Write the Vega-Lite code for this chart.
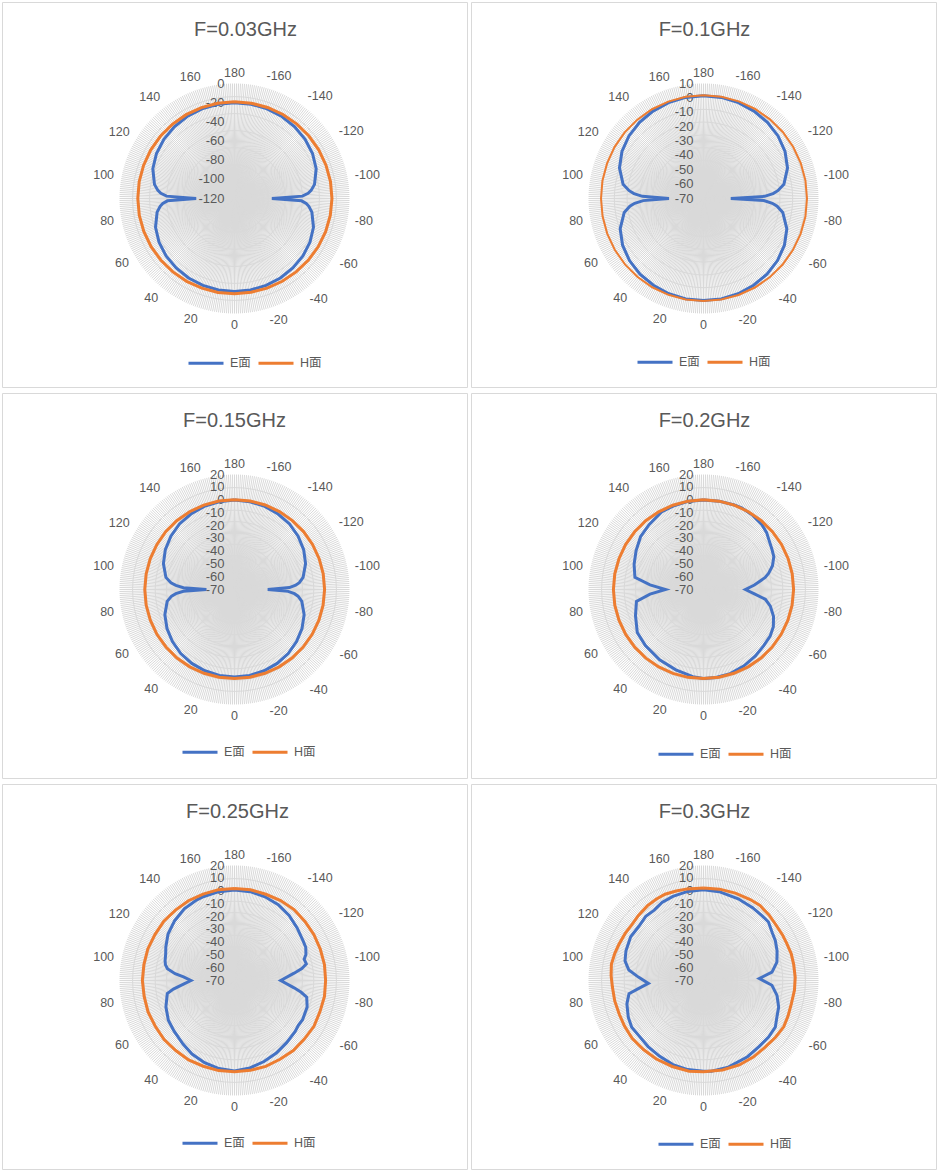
{
  "$schema": "https://vega.github.io/schema/vega-lite/v6.json",
  "padding": {"left": 1, "top": 1, "right": 0, "bottom": 0},
  "background": "white",
  "config": {
    "font": "Liberation Sans",
    "view": {"stroke": "#d9d9d9", "strokeWidth": 1},
    "title": {"fontSize": 20, "fontWeight": "normal", "color": "#595959", "anchor": "middle", "frame": "group", "offset": -38},
    "text": {"fontSize": 13, "color": "#595959"},
    "legend": {"orient": "none", "direction": "horizontal", "title": null, "symbolType": "stroke", "symbolSize": 1225, "symbolStrokeWidth": 3, "labelFontSize": 12.5, "labelColor": "#595959", "labelFont": "Liberation Sans, Noto Sans CJK SC", "columnPadding": 1, "labelOffset": 5}
  },
  "datasets": {
    "sp": [
      {"a":-179},{"a":-178},{"a":-177},{"a":-176},{"a":-175},{"a":-174},{"a":-173},{"a":-172},{"a":-171},{"a":-170},
      {"a":-169},{"a":-168},{"a":-167},{"a":-166},{"a":-165},{"a":-164},{"a":-163},{"a":-162},{"a":-161},{"a":-160},
      {"a":-159},{"a":-158},{"a":-157},{"a":-156},{"a":-155},{"a":-154},{"a":-153},{"a":-152},{"a":-151},{"a":-150},
      {"a":-149},{"a":-148},{"a":-147},{"a":-146},{"a":-145},{"a":-144},{"a":-143},{"a":-142},{"a":-141},{"a":-140},
      {"a":-139},{"a":-138},{"a":-137},{"a":-136},{"a":-135},{"a":-134},{"a":-133},{"a":-132},{"a":-131},{"a":-130},
      {"a":-129},{"a":-128},{"a":-127},{"a":-126},{"a":-125},{"a":-124},{"a":-123},{"a":-122},{"a":-121},{"a":-120},
      {"a":-119},{"a":-118},{"a":-117},{"a":-116},{"a":-115},{"a":-114},{"a":-113},{"a":-112},{"a":-111},{"a":-110},
      {"a":-109},{"a":-108},{"a":-107},{"a":-106},{"a":-105},{"a":-104},{"a":-103},{"a":-102},{"a":-101},{"a":-100},
      {"a":-99},{"a":-98},{"a":-97},{"a":-96},{"a":-95},{"a":-94},{"a":-93},{"a":-92},{"a":-91},{"a":-90},
      {"a":-89},{"a":-88},{"a":-87},{"a":-86},{"a":-85},{"a":-84},{"a":-83},{"a":-82},{"a":-81},{"a":-80},
      {"a":-79},{"a":-78},{"a":-77},{"a":-76},{"a":-75},{"a":-74},{"a":-73},{"a":-72},{"a":-71},{"a":-70},
      {"a":-69},{"a":-68},{"a":-67},{"a":-66},{"a":-65},{"a":-64},{"a":-63},{"a":-62},{"a":-61},{"a":-60},
      {"a":-59},{"a":-58},{"a":-57},{"a":-56},{"a":-55},{"a":-54},{"a":-53},{"a":-52},{"a":-51},{"a":-50},
      {"a":-49},{"a":-48},{"a":-47},{"a":-46},{"a":-45},{"a":-44},{"a":-43},{"a":-42},{"a":-41},{"a":-40},
      {"a":-39},{"a":-38},{"a":-37},{"a":-36},{"a":-35},{"a":-34},{"a":-33},{"a":-32},{"a":-31},{"a":-30},
      {"a":-29},{"a":-28},{"a":-27},{"a":-26},{"a":-25},{"a":-24},{"a":-23},{"a":-22},{"a":-21},{"a":-20},
      {"a":-19},{"a":-18},{"a":-17},{"a":-16},{"a":-15},{"a":-14},{"a":-13},{"a":-12},{"a":-11},{"a":-10},
      {"a":-9},{"a":-8},{"a":-7},{"a":-6},{"a":-5},{"a":-4},{"a":-3},{"a":-2},{"a":-1},{"a":0},
      {"a":1},{"a":2},{"a":3},{"a":4},{"a":5},{"a":6},{"a":7},{"a":8},{"a":9},{"a":10},
      {"a":11},{"a":12},{"a":13},{"a":14},{"a":15},{"a":16},{"a":17},{"a":18},{"a":19},{"a":20},
      {"a":21},{"a":22},{"a":23},{"a":24},{"a":25},{"a":26},{"a":27},{"a":28},{"a":29},{"a":30},
      {"a":31},{"a":32},{"a":33},{"a":34},{"a":35},{"a":36},{"a":37},{"a":38},{"a":39},{"a":40},
      {"a":41},{"a":42},{"a":43},{"a":44},{"a":45},{"a":46},{"a":47},{"a":48},{"a":49},{"a":50},
      {"a":51},{"a":52},{"a":53},{"a":54},{"a":55},{"a":56},{"a":57},{"a":58},{"a":59},{"a":60},
      {"a":61},{"a":62},{"a":63},{"a":64},{"a":65},{"a":66},{"a":67},{"a":68},{"a":69},{"a":70},
      {"a":71},{"a":72},{"a":73},{"a":74},{"a":75},{"a":76},{"a":77},{"a":78},{"a":79},{"a":80},
      {"a":81},{"a":82},{"a":83},{"a":84},{"a":85},{"a":86},{"a":87},{"a":88},{"a":89},{"a":90},
      {"a":91},{"a":92},{"a":93},{"a":94},{"a":95},{"a":96},{"a":97},{"a":98},{"a":99},{"a":100},
      {"a":101},{"a":102},{"a":103},{"a":104},{"a":105},{"a":106},{"a":107},{"a":108},{"a":109},{"a":110},
      {"a":111},{"a":112},{"a":113},{"a":114},{"a":115},{"a":116},{"a":117},{"a":118},{"a":119},{"a":120},
      {"a":121},{"a":122},{"a":123},{"a":124},{"a":125},{"a":126},{"a":127},{"a":128},{"a":129},{"a":130},
      {"a":131},{"a":132},{"a":133},{"a":134},{"a":135},{"a":136},{"a":137},{"a":138},{"a":139},{"a":140},
      {"a":141},{"a":142},{"a":143},{"a":144},{"a":145},{"a":146},{"a":147},{"a":148},{"a":149},{"a":150},
      {"a":151},{"a":152},{"a":153},{"a":154},{"a":155},{"a":156},{"a":157},{"a":158},{"a":159},{"a":160},
      {"a":161},{"a":162},{"a":163},{"a":164},{"a":165},{"a":166},{"a":167},{"a":168},{"a":169},{"a":170},
      {"a":171},{"a":172},{"a":173},{"a":174},{"a":175},{"a":176},{"a":177},{"a":178},{"a":179},{"a":180}
    ],
    "l1": [{"v":0},{"v":-20},{"v":-40},{"v":-60},{"v":-80},{"v":-100},{"v":-120}],
    "l2": [{"v":10},{"v":0},{"v":-10},{"v":-20},{"v":-30},{"v":-40},{"v":-50},{"v":-60},{"v":-70}],
    "l3": [{"v":20},{"v":10},{"v":0},{"v":-10},{"v":-20},{"v":-30},{"v":-40},{"v":-50},{"v":-60},{"v":-70}],
    "d1": [
      {"s":"E面","a":-180,"v":-20},{"s":"E面","a":-170,"v":-20.1},{"s":"E面","a":-160,"v":-20.5},{"s":"E面","a":-150,"v":-21.2},{"s":"E面","a":-140,"v":-22.3},{"s":"E面","a":-130,"v":-23.8},{"s":"E面","a":-120,"v":-26},{"s":"E面","a":-110,"v":-29.3},{"s":"E面","a":-100,"v":-35.2},{"s":"E面","a":-96,"v":-39.6},{"s":"E面","a":-94,"v":-43},{"s":"E面","a":-92,"v":-49},{"s":"E面","a":-90,"v":-81},{"s":"E面","a":-88,"v":-50},{"s":"E面","a":-86,"v":-45},{"s":"E面","a":-84,"v":-42},{"s":"E面","a":-80,"v":-38},{"s":"E面","a":-70,"v":-32.3},{"s":"E面","a":-60,"v":-29},{"s":"E面","a":-50,"v":-26.8},{"s":"E面","a":-40,"v":-25.3},{"s":"E面","a":-30,"v":-24.2},{"s":"E面","a":-20,"v":-23.5},{"s":"E面","a":-10,"v":-23.1},{"s":"E面","a":0,"v":-23},
      {"s":"E面","a":10,"v":-23.1},{"s":"E面","a":20,"v":-23.5},{"s":"E面","a":30,"v":-24.2},{"s":"E面","a":40,"v":-25.3},{"s":"E面","a":50,"v":-26.8},{"s":"E面","a":60,"v":-29},{"s":"E面","a":70,"v":-32.3},{"s":"E面","a":80,"v":-38},{"s":"E面","a":84,"v":-42},{"s":"E面","a":86,"v":-45},{"s":"E面","a":88,"v":-50},{"s":"E面","a":90,"v":-80},{"s":"E面","a":92,"v":-49},{"s":"E面","a":94,"v":-43},{"s":"E面","a":96,"v":-39.6},{"s":"E面","a":100,"v":-35.2},{"s":"E面","a":110,"v":-29.3},{"s":"E面","a":120,"v":-26},{"s":"E面","a":130,"v":-23.8},{"s":"E面","a":140,"v":-22.3},{"s":"E面","a":150,"v":-21.2},{"s":"E面","a":160,"v":-20.5},{"s":"E面","a":170,"v":-20.1},{"s":"E面","a":180,"v":-20},
      {"s":"H面","a":-180,"v":-19},{"s":"H面","a":-170,"v":-19},{"s":"H面","a":-160,"v":-18.9},{"s":"H面","a":-150,"v":-18.8},{"s":"H面","a":-140,"v":-18.7},{"s":"H面","a":-130,"v":-18.6},{"s":"H面","a":-120,"v":-18.5},{"s":"H面","a":-110,"v":-18.4},{"s":"H面","a":-100,"v":-18.3},{"s":"H面","a":-90,"v":-18.3},{"s":"H面","a":-80,"v":-18.5},{"s":"H面","a":-70,"v":-18.8},{"s":"H面","a":-60,"v":-19.2},{"s":"H面","a":-50,"v":-19.6},{"s":"H面","a":-40,"v":-20},{"s":"H面","a":-30,"v":-20.3},{"s":"H面","a":-20,"v":-20.5},{"s":"H面","a":-10,"v":-20.6},{"s":"H面","a":0,"v":-20.6},
      {"s":"H面","a":10,"v":-20.5},{"s":"H面","a":20,"v":-20.4},{"s":"H面","a":30,"v":-20.2},{"s":"H面","a":40,"v":-20},{"s":"H面","a":50,"v":-19.8},{"s":"H面","a":60,"v":-19.5},{"s":"H面","a":70,"v":-19.3},{"s":"H面","a":80,"v":-19.1},{"s":"H面","a":90,"v":-19.1},{"s":"H面","a":100,"v":-19},{"s":"H面","a":110,"v":-19},{"s":"H面","a":120,"v":-19},{"s":"H面","a":130,"v":-19},{"s":"H面","a":140,"v":-19},{"s":"H面","a":150,"v":-19},{"s":"H面","a":160,"v":-19},{"s":"H面","a":170,"v":-19},{"s":"H面","a":180,"v":-19}
    ],
    "d2": [
      {"s":"E面","a":-180,"v":1.5},{"s":"E面","a":-170,"v":1.4},{"s":"E面","a":-160,"v":1},{"s":"E面","a":-150,"v":0.2},{"s":"E面","a":-140,"v":-0.8},{"s":"E面","a":-130,"v":-2.3},{"s":"E面","a":-120,"v":-4.5},{"s":"E面","a":-110,"v":-7.8},{"s":"E面","a":-100,"v":-13.2},{"s":"E面","a":-96,"v":-18},{"s":"E面","a":-94,"v":-21.5},{"s":"E面","a":-92,"v":-27.5},{"s":"E面","a":-90,"v":-51},{"s":"E面","a":-88,"v":-28},{"s":"E面","a":-86,"v":-22},{"s":"E面","a":-84,"v":-18.5},{"s":"E面","a":-80,"v":-14},{"s":"E面","a":-70,"v":-8.3},{"s":"E面","a":-60,"v":-5},{"s":"E面","a":-50,"v":-2.8},{"s":"E面","a":-40,"v":-1.3},{"s":"E面","a":-30,"v":-0.3},{"s":"E面","a":-20,"v":0.5},{"s":"E面","a":-10,"v":0.9},{"s":"E面","a":0,"v":1},
      {"s":"E面","a":10,"v":0.9},{"s":"E面","a":20,"v":0.5},{"s":"E面","a":30,"v":-0.3},{"s":"E面","a":40,"v":-1.3},{"s":"E面","a":50,"v":-2.8},{"s":"E面","a":60,"v":-5},{"s":"E面","a":70,"v":-8.3},{"s":"E面","a":80,"v":-14},{"s":"E面","a":84,"v":-18.5},{"s":"E面","a":86,"v":-22},{"s":"E面","a":88,"v":-28},{"s":"E面","a":90,"v":-46},{"s":"E面","a":92,"v":-27.5},{"s":"E面","a":94,"v":-21.5},{"s":"E面","a":96,"v":-18},{"s":"E面","a":100,"v":-13.2},{"s":"E面","a":110,"v":-7.8},{"s":"E面","a":120,"v":-4.5},{"s":"E面","a":130,"v":-2.3},{"s":"E面","a":140,"v":-0.8},{"s":"E面","a":150,"v":0.2},{"s":"E面","a":160,"v":1},{"s":"E面","a":170,"v":1.4},{"s":"E面","a":180,"v":1.5},
      {"s":"H面","a":-180,"v":1.8},{"s":"H面","a":-170,"v":1.8},{"s":"H面","a":-160,"v":1.9},{"s":"H面","a":-150,"v":1.9},{"s":"H面","a":-140,"v":1.9},{"s":"H面","a":-130,"v":2},{"s":"H面","a":-120,"v":2},{"s":"H面","a":-110,"v":2},{"s":"H面","a":-100,"v":2},{"s":"H面","a":-90,"v":2},{"s":"H面","a":-80,"v":2},{"s":"H面","a":-70,"v":1.9},{"s":"H面","a":-60,"v":1.8},{"s":"H面","a":-50,"v":1.7},{"s":"H面","a":-40,"v":1.6},{"s":"H面","a":-30,"v":1.5},{"s":"H面","a":-20,"v":1.4},{"s":"H面","a":-10,"v":1.3},{"s":"H面","a":0,"v":1.3},
      {"s":"H面","a":10,"v":1.3},{"s":"H面","a":20,"v":1.3},{"s":"H面","a":30,"v":1.3},{"s":"H面","a":40,"v":1.3},{"s":"H面","a":50,"v":1.3},{"s":"H面","a":60,"v":1.3},{"s":"H面","a":70,"v":1.3},{"s":"H面","a":80,"v":1.3},{"s":"H面","a":90,"v":1.3},{"s":"H面","a":100,"v":1.4},{"s":"H面","a":110,"v":1.4},{"s":"H面","a":120,"v":1.5},{"s":"H面","a":130,"v":1.6},{"s":"H面","a":140,"v":1.6},{"s":"H面","a":150,"v":1.7},{"s":"H面","a":160,"v":1.7},{"s":"H面","a":170,"v":1.8},{"s":"H面","a":180,"v":1.8}
    ],
    "d3": [
      {"s":"E面","a":-180,"v":0},{"s":"E面","a":-170,"v":-0.3},{"s":"E面","a":-160,"v":-0.8},{"s":"E面","a":-150,"v":-1.8},{"s":"E面","a":-140,"v":-3},{"s":"E面","a":-130,"v":-5},{"s":"E面","a":-120,"v":-7.5},{"s":"E面","a":-110,"v":-10.8},{"s":"E面","a":-100,"v":-15.5},{"s":"E面","a":-96,"v":-19},{"s":"E面","a":-94,"v":-22},{"s":"E面","a":-92,"v":-27},{"s":"E面","a":-90,"v":-44},{"s":"E面","a":-88,"v":-28},{"s":"E面","a":-86,"v":-23},{"s":"E面","a":-84,"v":-20},{"s":"E面","a":-80,"v":-16.5},{"s":"E面","a":-70,"v":-12},{"s":"E面","a":-60,"v":-9},{"s":"E面","a":-50,"v":-6.6},{"s":"E面","a":-40,"v":-4.6},{"s":"E面","a":-30,"v":-3.2},{"s":"E面","a":-20,"v":-2.3},{"s":"E面","a":-10,"v":-1.7},{"s":"E面","a":0,"v":-1.5},
      {"s":"E面","a":10,"v":-1.7},{"s":"E面","a":20,"v":-2.3},{"s":"E面","a":30,"v":-3.2},{"s":"E面","a":40,"v":-4.6},{"s":"E面","a":50,"v":-6.6},{"s":"E面","a":60,"v":-9},{"s":"E面","a":70,"v":-12},{"s":"E面","a":80,"v":-16.5},{"s":"E面","a":84,"v":-20.5},{"s":"E面","a":86,"v":-24},{"s":"E面","a":88,"v":-30},{"s":"E面","a":90,"v":-48},{"s":"E面","a":92,"v":-30},{"s":"E面","a":94,"v":-24},{"s":"E面","a":96,"v":-20},{"s":"E面","a":100,"v":-15.5},{"s":"E面","a":110,"v":-10.8},{"s":"E面","a":120,"v":-7.5},{"s":"E面","a":130,"v":-5},{"s":"E面","a":140,"v":-3},{"s":"E面","a":150,"v":-1.8},{"s":"E面","a":160,"v":-0.8},{"s":"E面","a":170,"v":-0.3},{"s":"E面","a":180,"v":0},
      {"s":"H面","a":-180,"v":0.3},{"s":"H面","a":-170,"v":0.3},{"s":"H面","a":-160,"v":0.4},{"s":"H面","a":-150,"v":0.4},{"s":"H面","a":-140,"v":0.4},{"s":"H面","a":-130,"v":0.5},{"s":"H面","a":-120,"v":0.5},{"s":"H面","a":-110,"v":0.5},{"s":"H面","a":-100,"v":0.5},{"s":"H面","a":-90,"v":0.5},{"s":"H面","a":-80,"v":0.4},{"s":"H面","a":-70,"v":0.3},{"s":"H面","a":-60,"v":0.2},{"s":"H面","a":-50,"v":0.1},{"s":"H面","a":-40,"v":0},{"s":"H面","a":-30,"v":-0.1},{"s":"H面","a":-20,"v":-0.2},{"s":"H面","a":-10,"v":-0.3},{"s":"H面","a":0,"v":-0.3},
      {"s":"H面","a":10,"v":-0.3},{"s":"H面","a":20,"v":-0.2},{"s":"H面","a":30,"v":-0.1},{"s":"H面","a":40,"v":0},{"s":"H面","a":50,"v":0},{"s":"H面","a":60,"v":0.1},{"s":"H面","a":70,"v":0.1},{"s":"H面","a":80,"v":0.2},{"s":"H面","a":90,"v":0.2},{"s":"H面","a":100,"v":0.2},{"s":"H面","a":110,"v":0.2},{"s":"H面","a":120,"v":0.2},{"s":"H面","a":130,"v":0.3},{"s":"H面","a":140,"v":0.3},{"s":"H面","a":150,"v":0.3},{"s":"H面","a":160,"v":0.3},{"s":"H面","a":170,"v":0.3},{"s":"H面","a":180,"v":0.3}
    ],
    "d4": [
      {"s":"E面","a":-180,"v":0},{"s":"E面","a":-170,"v":0.2},{"s":"E面","a":-160,"v":0.4},{"s":"E面","a":-155,"v":0.5},{"s":"E面","a":-147,"v":-0.3},{"s":"E面","a":-138,"v":-1.7},{"s":"E面","a":-132,"v":-3.5},{"s":"E面","a":-127,"v":-5.8},{"s":"E面","a":-120,"v":-8},{"s":"E面","a":-115,"v":-9.3},{"s":"E面","a":-109,"v":-12.9},{"s":"E面","a":-104,"v":-17.4},{"s":"E面","a":-101,"v":-20.8},{"s":"E面","a":-95,"v":-30},{"s":"E面","a":-90,"v":-37.2},{"s":"E面","a":-85,"v":-30},{"s":"E面","a":-81,"v":-21},{"s":"E面","a":-76,"v":-16.1},{"s":"E面","a":-69,"v":-11.3},{"s":"E面","a":-62,"v":-8.1},{"s":"E面","a":-55,"v":-6.3},{"s":"E面","a":-47,"v":-5.5},{"s":"E面","a":-38,"v":-4},{"s":"E面","a":-28,"v":-2.4},{"s":"E面","a":-17,"v":-0.8},{"s":"E面","a":-8,"v":-0.4},{"s":"E面","a":0,"v":-0.3},
      {"s":"E面","a":7,"v":-1.3},{"s":"E面","a":19,"v":-3.5},{"s":"E面","a":32,"v":-5.2},{"s":"E面","a":46,"v":-6.8},{"s":"E面","a":57,"v":-8.2},{"s":"E面","a":69,"v":-13},{"s":"E面","a":80,"v":-16.7},{"s":"E面","a":85,"v":-28},{"s":"E面","a":90,"v":-40.3},{"s":"E面","a":95,"v":-28},{"s":"E面","a":100,"v":-15.5},{"s":"E面","a":110,"v":-12.2},{"s":"E面","a":120,"v":-9.1},{"s":"E面","a":130,"v":-5.7},{"s":"E面","a":140,"v":-3.7},{"s":"E面","a":152,"v":-0.9},{"s":"E面","a":160,"v":-0.5},{"s":"E面","a":170,"v":0},{"s":"E面","a":180,"v":0},
      {"s":"H面","a":-180,"v":0.2},{"s":"H面","a":-170,"v":0.2},{"s":"H面","a":-160,"v":0.3},{"s":"H面","a":-150,"v":0.3},{"s":"H面","a":-140,"v":0.4},{"s":"H面","a":-130,"v":0.4},{"s":"H面","a":-120,"v":0.5},{"s":"H面","a":-110,"v":0.5},{"s":"H面","a":-100,"v":0.5},{"s":"H面","a":-90,"v":0.5},{"s":"H面","a":-80,"v":0.4},{"s":"H面","a":-70,"v":0.3},{"s":"H面","a":-60,"v":0.2},{"s":"H面","a":-50,"v":0.1},{"s":"H面","a":-40,"v":0},{"s":"H面","a":-30,"v":-0.1},{"s":"H面","a":-20,"v":-0.2},{"s":"H面","a":-10,"v":-0.3},{"s":"H面","a":0,"v":-0.3},
      {"s":"H面","a":10,"v":-0.2},{"s":"H面","a":20,"v":-0.1},{"s":"H面","a":30,"v":0},{"s":"H面","a":40,"v":0.1},{"s":"H面","a":50,"v":0.2},{"s":"H面","a":60,"v":0.3},{"s":"H面","a":70,"v":0.4},{"s":"H面","a":80,"v":0.5},{"s":"H面","a":90,"v":0.5},{"s":"H面","a":100,"v":0.5},{"s":"H面","a":110,"v":0.4},{"s":"H面","a":120,"v":0.4},{"s":"H面","a":130,"v":0.3},{"s":"H面","a":140,"v":0.3},{"s":"H面","a":150,"v":0.2},{"s":"H面","a":160,"v":0.2},{"s":"H面","a":170,"v":0.2},{"s":"H面","a":180,"v":0.2}
    ],
    "d5": [
      {"s":"E面","a":-180,"v":0.8},{"s":"E面","a":-170,"v":0.6},{"s":"E面","a":-160,"v":-0.3},{"s":"E面","a":-150,"v":-1.5},{"s":"E面","a":-140,"v":-3.5},{"s":"E面","a":-130,"v":-6},{"s":"E面","a":-120,"v":-8},{"s":"E面","a":-115,"v":-8.5},{"s":"E面","a":-110,"v":-10.5},{"s":"E面","a":-107,"v":-13},{"s":"E面","a":-103,"v":-12.3},{"s":"E面","a":-100,"v":-16.5},{"s":"E面","a":-97,"v":-23},{"s":"E面","a":-90,"v":-33.8},{"s":"E面","a":-83,"v":-23},{"s":"E面","a":-80,"v":-17},{"s":"E面","a":-77,"v":-12},{"s":"E面","a":-70,"v":-9.5},{"s":"E面","a":-60,"v":-8.5},{"s":"E面","a":-55,"v":-9},{"s":"E面","a":-50,"v":-8},{"s":"E面","a":-40,"v":-6.5},{"s":"E面","a":-30,"v":-4.5},{"s":"E面","a":-20,"v":-2.5},{"s":"E面","a":-10,"v":-0.5},{"s":"E面","a":0,"v":0.8},
      {"s":"E面","a":10,"v":0},{"s":"E面","a":20,"v":-1.5},{"s":"E面","a":30,"v":-3.5},{"s":"E面","a":39,"v":-6},{"s":"E面","a":50,"v":-8.3},{"s":"E面","a":59,"v":-9.6},{"s":"E面","a":69,"v":-12.5},{"s":"E面","a":79,"v":-16.4},{"s":"E面","a":82,"v":-21.7},{"s":"E面","a":86,"v":-30},{"s":"E面","a":90,"v":-35.9},{"s":"E面","a":94,"v":-30},{"s":"E面","a":96.5,"v":-23.2},{"s":"E面","a":100,"v":-16.7},{"s":"E面","a":103,"v":-14.5},{"s":"E面","a":106,"v":-13.5},{"s":"E面","a":111,"v":-12.3},{"s":"E面","a":116,"v":-10.2},{"s":"E面","a":125,"v":-6.5},{"s":"E面","a":135,"v":-3.8},{"s":"E面","a":145,"v":-1.5},{"s":"E面","a":155,"v":-0.3},{"s":"E面","a":160,"v":0},{"s":"E面","a":170,"v":0.6},{"s":"E面","a":180,"v":0.8},
      {"s":"H面","a":-180,"v":2},{"s":"H面","a":-170,"v":2.1},{"s":"H面","a":-160,"v":1.8},{"s":"H面","a":-150,"v":2.2},{"s":"H面","a":-140,"v":2.5},{"s":"H面","a":-130,"v":2},{"s":"H面","a":-120,"v":1.8},{"s":"H面","a":-110,"v":1.5},{"s":"H面","a":-100,"v":1.5},{"s":"H面","a":-90,"v":1.3},{"s":"H面","a":-80,"v":1.5},{"s":"H面","a":-70,"v":1.2},{"s":"H面","a":-60,"v":1.8},{"s":"H面","a":-50,"v":1.3},{"s":"H面","a":-40,"v":1.6},{"s":"H面","a":-30,"v":1.2},{"s":"H面","a":-20,"v":1.5},{"s":"H面","a":-10,"v":1.4},{"s":"H面","a":0,"v":1.5},
      {"s":"H面","a":10,"v":1.6},{"s":"H面","a":20,"v":1.4},{"s":"H面","a":30,"v":1.8},{"s":"H面","a":40,"v":1.5},{"s":"H面","a":50,"v":1.9},{"s":"H面","a":60,"v":1.6},{"s":"H面","a":70,"v":2},{"s":"H面","a":80,"v":1.8},{"s":"H面","a":90,"v":2.1},{"s":"H面","a":100,"v":2},{"s":"H面","a":110,"v":2.2},{"s":"H面","a":120,"v":1.9},{"s":"H面","a":130,"v":2.2},{"s":"H面","a":140,"v":1.9},{"s":"H面","a":150,"v":2.1},{"s":"H面","a":160,"v":2},{"s":"H面","a":170,"v":2.2},{"s":"H面","a":180,"v":2}
    ],
    "d6": [
      {"s":"E面","a":-180,"v":1},{"s":"E面","a":-170,"v":0.6},{"s":"E面","a":-157,"v":-0.5},{"s":"E面","a":-146,"v":-1.3},{"s":"E面","a":-138,"v":-1.7},{"s":"E面","a":-132,"v":-1.6},{"s":"E面","a":-125,"v":-4.4},{"s":"E面","a":-119,"v":-5.7},{"s":"E面","a":-112,"v":-7.9},{"s":"E面","a":-104,"v":-10.8},{"s":"E面","a":-97,"v":-16},{"s":"E面","a":-92,"v":-26.3},{"s":"E面","a":-86,"v":-16.3},{"s":"E面","a":-78.5,"v":-11.3},{"s":"E面","a":-70.5,"v":-7.6},{"s":"E面","a":-63.5,"v":-5.8},{"s":"E面","a":-57,"v":-3},{"s":"E面","a":-49,"v":-2.5},{"s":"E面","a":-40,"v":-2.4},{"s":"E面","a":-30,"v":-1.1},{"s":"E面","a":-16,"v":0.5},{"s":"E面","a":-5,"v":1.3},{"s":"E面","a":0,"v":1},
      {"s":"E面","a":10,"v":0.8},{"s":"E面","a":20,"v":0},{"s":"E面","a":30,"v":-1.5},{"s":"E面","a":40,"v":-2.5},{"s":"E面","a":50,"v":-3.5},{"s":"E面","a":57,"v":-3},{"s":"E面","a":64,"v":-4.5},{"s":"E面","a":73,"v":-7.3},{"s":"E面","a":80,"v":-10.8},{"s":"E面","a":83,"v":-19},{"s":"E面","a":87,"v":-26.8},{"s":"E面","a":93,"v":-19},{"s":"E面","a":98,"v":-11},{"s":"E面","a":104,"v":-6.7},{"s":"E面","a":111,"v":-5},{"s":"E面","a":121,"v":-3.5},{"s":"E面","a":130,"v":-4},{"s":"E面","a":138,"v":-2.5},{"s":"E面","a":145,"v":-2.8},{"s":"E面","a":152,"v":-0.9},{"s":"E面","a":160,"v":0},{"s":"E面","a":170,"v":0.8},{"s":"E面","a":180,"v":1},
      {"s":"H面","a":-180,"v":2.3},{"s":"H面","a":-170,"v":2.6},{"s":"H面","a":-160,"v":2.8},{"s":"H面","a":-150,"v":3.2},{"s":"H面","a":-143,"v":3.5},{"s":"H面","a":-135,"v":2.5},{"s":"H面","a":-128,"v":1.5},{"s":"H面","a":-120,"v":1.4},{"s":"H面","a":-114,"v":1.3},{"s":"H面","a":-107,"v":1.8},{"s":"H面","a":-100,"v":1.7},{"s":"H面","a":-92,"v":1.8},{"s":"H面","a":-84,"v":1.6},{"s":"H面","a":-75,"v":1.1},{"s":"H面","a":-67,"v":1.8},{"s":"H面","a":-60,"v":2.5},{"s":"H面","a":-52,"v":1.8},{"s":"H面","a":-43,"v":1.1},{"s":"H面","a":-33,"v":1.5},{"s":"H面","a":-23,"v":1.8},{"s":"H面","a":-12,"v":1.6},{"s":"H面","a":0,"v":1.5},
      {"s":"H面","a":9,"v":1.9},{"s":"H面","a":20,"v":1.6},{"s":"H面","a":31,"v":1.7},{"s":"H面","a":41,"v":1.6},{"s":"H面","a":51,"v":1.9},{"s":"H面","a":60,"v":1.4},{"s":"H面","a":68,"v":1},{"s":"H面","a":77,"v":1.3},{"s":"H面","a":86,"v":1.5},{"s":"H面","a":93,"v":2.4},{"s":"H面","a":100,"v":3.2},{"s":"H面","a":107,"v":2.6},{"s":"H面","a":113,"v":2},{"s":"H面","a":121,"v":1.5},{"s":"H面","a":128,"v":1.1},{"s":"H面","a":135,"v":2},{"s":"H面","a":143,"v":3.1},{"s":"H面","a":150,"v":3.6},{"s":"H面","a":156,"v":3.9},{"s":"H面","a":163,"v":3.2},{"s":"H面","a":170,"v":2.8},{"s":"H面","a":180,"v":2.3}
    ]
  },
  "spacing": 4,
  "resolve": {"scale": {"color": "independent"}, "legend": {"color": "independent"}},
  "vconcat": [
    {
      "spacing": 2,
      "resolve": {"scale": {"color": "independent"}, "legend": {"color": "independent"}},
      "hconcat": [
        {
          "width": 465, "height": 385,
          "title": {"text": "F=0.03GHz", "dx": 11},
          "layer": [
            {"data": {"name": "sp"}, "transform": [{"calculate": "0", "as": "o"}, {"calculate": "-115*sin(datum.a*PI/180)", "as": "sx"}, {"calculate": "-115*cos(datum.a*PI/180)", "as": "sy"}],
             "mark": {"type": "rule", "color": "#d9d9d9", "strokeWidth": 1},
             "encoding": {"x": {"field": "o", "type": "quantitative", "scale": {"domain": [-232.5, 232.5], "nice": false, "zero": false}, "axis": null},
                          "y": {"field": "o", "type": "quantitative", "scale": {"domain": [-188.5, 196.5], "nice": false, "zero": false}, "axis": null},
                          "x2": {"field": "sx"}, "y2": {"field": "sy"}}},
            {"data": {"name": "l1"}, "transform": [{"calculate": "0", "as": "o"}, {"calculate": "(datum.v+120)/120", "as": "n"}],
             "mark": {"type": "point", "shape": "circle", "filled": false, "color": "#d9d9d9", "strokeWidth": 1, "opacity": 1},
             "encoding": {"x": {"field": "o", "type": "quantitative"}, "y": {"field": "o", "type": "quantitative"},
                          "size": {"field": "n", "type": "quantitative", "scale": {"type": "pow", "exponent": 2, "domain": [0, 1], "range": [0, 41548], "zero": true, "nice": false}, "legend": null}}},
            {"data": {"name": "sp"}, "transform": [{"filter": "datum.a % 20 == 0"}, {"calculate": "3.6*length(toString(abs(datum.a)))+(datum.a<0?2:0)", "as": "hw"}, {"calculate": "121.5+abs(sin(datum.a*PI/180))*datum.hw+abs(cos(datum.a*PI/180))*4.5", "as": "r"}, {"calculate": "-datum.r*sin(datum.a*PI/180)", "as": "lx"}, {"calculate": "-datum.r*cos(datum.a*PI/180)", "as": "ly"}],
             "mark": {"type": "text", "fontSize": 12.5, "baseline": "middle"},
             "encoding": {"x": {"field": "lx", "type": "quantitative"}, "y": {"field": "ly", "type": "quantitative"}, "text": {"field": "a", "type": "nominal"}}},
            {"data": {"name": "l1"}, "transform": [{"calculate": "0", "as": "o"}, {"calculate": "115*(datum.v+120)/120", "as": "ly"}],
             "mark": {"type": "text", "align": "right", "baseline": "middle", "dx": -10},
             "encoding": {"x": {"field": "o", "type": "quantitative"}, "y": {"field": "ly", "type": "quantitative"}, "text": {"field": "v", "type": "nominal"}}},
            {"data": {"name": "d1"}, "transform": [{"calculate": "115*(datum.v+120)/120", "as": "r"}, {"calculate": "-datum.r*sin(datum.a*PI/180)", "as": "px"}, {"calculate": "-datum.r*cos(datum.a*PI/180)", "as": "py"}],
             "mark": {"type": "line", "strokeWidth": 3},
             "encoding": {"x": {"field": "px", "type": "quantitative"}, "y": {"field": "py", "type": "quantitative"}, "order": {"field": "a", "type": "quantitative"},
                          "color": {"field": "s", "type": "nominal", "scale": {"domain": ["E面", "H面"], "range": ["#4472C4", "#ED7D31"]}, "legend": {"legendX": 185, "legendY": 342}}}}
          ]
        },
        {
          "width": 465, "height": 385,
          "title": {"text": "F=0.1GHz", "dx": 1},
          "layer": [
            {"data": {"name": "sp"}, "transform": [{"calculate": "0", "as": "o"}, {"calculate": "-115*sin(datum.a*PI/180)", "as": "sx"}, {"calculate": "-115*cos(datum.a*PI/180)", "as": "sy"}],
             "mark": {"type": "rule", "color": "#d9d9d9", "strokeWidth": 1},
             "encoding": {"x": {"field": "o", "type": "quantitative", "scale": {"domain": [-232.5, 232.5], "nice": false, "zero": false}, "axis": null},
                          "y": {"field": "o", "type": "quantitative", "scale": {"domain": [-188.5, 196.5], "nice": false, "zero": false}, "axis": null},
                          "x2": {"field": "sx"}, "y2": {"field": "sy"}}},
            {"data": {"name": "l2"}, "transform": [{"calculate": "0", "as": "o"}, {"calculate": "(datum.v+70)/80", "as": "n"}],
             "mark": {"type": "point", "shape": "circle", "filled": false, "color": "#d9d9d9", "strokeWidth": 1, "opacity": 1},
             "encoding": {"x": {"field": "o", "type": "quantitative"}, "y": {"field": "o", "type": "quantitative"},
                          "size": {"field": "n", "type": "quantitative", "scale": {"type": "pow", "exponent": 2, "domain": [0, 1], "range": [0, 41548], "zero": true, "nice": false}, "legend": null}}},
            {"data": {"name": "sp"}, "transform": [{"filter": "datum.a % 20 == 0"}, {"calculate": "3.6*length(toString(abs(datum.a)))+(datum.a<0?2:0)", "as": "hw"}, {"calculate": "121.5+abs(sin(datum.a*PI/180))*datum.hw+abs(cos(datum.a*PI/180))*4.5", "as": "r"}, {"calculate": "-datum.r*sin(datum.a*PI/180)", "as": "lx"}, {"calculate": "-datum.r*cos(datum.a*PI/180)", "as": "ly"}],
             "mark": {"type": "text", "fontSize": 12.5, "baseline": "middle"},
             "encoding": {"x": {"field": "lx", "type": "quantitative"}, "y": {"field": "ly", "type": "quantitative"}, "text": {"field": "a", "type": "nominal"}}},
            {"data": {"name": "l2"}, "transform": [{"calculate": "0", "as": "o"}, {"calculate": "115*(datum.v+70)/80", "as": "ly"}],
             "mark": {"type": "text", "align": "right", "baseline": "middle", "dx": -10},
             "encoding": {"x": {"field": "o", "type": "quantitative"}, "y": {"field": "ly", "type": "quantitative"}, "text": {"field": "v", "type": "nominal"}}},
            {"data": {"name": "d2"}, "transform": [{"filter": "datum.s == 'E面'"}, {"calculate": "115*(datum.v+70)/80", "as": "r"}, {"calculate": "-datum.r*sin(datum.a*PI/180)", "as": "px"}, {"calculate": "-datum.r*cos(datum.a*PI/180)", "as": "py"}],
             "mark": {"type": "line", "strokeWidth": 3},
             "encoding": {"x": {"field": "px", "type": "quantitative"}, "y": {"field": "py", "type": "quantitative"}, "order": {"field": "a", "type": "quantitative"},
                          "color": {"field": "s", "type": "nominal", "scale": {"domain": ["E面", "H面"], "range": ["#4472C4", "#ED7D31"]}, "legend": {"legendX": 165, "legendY": 341}}}},
            {"data": {"name": "d2"}, "transform": [{"filter": "datum.s == 'H面'"}, {"calculate": "115*(datum.v+70)/80", "as": "r"}, {"calculate": "-datum.r*sin(datum.a*PI/180)", "as": "px"}, {"calculate": "-datum.r*cos(datum.a*PI/180)", "as": "py"}],
             "mark": {"type": "line", "strokeWidth": 2},
             "encoding": {"x": {"field": "px", "type": "quantitative"}, "y": {"field": "py", "type": "quantitative"}, "order": {"field": "a", "type": "quantitative"},
                          "color": {"field": "s", "type": "nominal", "scale": {"domain": ["E面", "H面"], "range": ["#4472C4", "#ED7D31"]}, "legend": {"legendX": 165, "legendY": 341}}}}
          ]
        }
      ]
    },
    {
      "spacing": 2,
      "resolve": {"scale": {"color": "independent"}, "legend": {"color": "independent"}},
      "hconcat": [
        {
          "width": 465, "height": 385,
          "title": {"text": "F=0.15GHz", "dx": 0},
          "layer": [
            {"data": {"name": "sp"}, "transform": [{"calculate": "0", "as": "o"}, {"calculate": "-115*sin(datum.a*PI/180)", "as": "sx"}, {"calculate": "-115*cos(datum.a*PI/180)", "as": "sy"}],
             "mark": {"type": "rule", "color": "#d9d9d9", "strokeWidth": 1},
             "encoding": {"x": {"field": "o", "type": "quantitative", "scale": {"domain": [-232.5, 232.5], "nice": false, "zero": false}, "axis": null},
                          "y": {"field": "o", "type": "quantitative", "scale": {"domain": [-188.5, 196.5], "nice": false, "zero": false}, "axis": null},
                          "x2": {"field": "sx"}, "y2": {"field": "sy"}}},
            {"data": {"name": "l3"}, "transform": [{"calculate": "0", "as": "o"}, {"calculate": "(datum.v+70)/90", "as": "n"}],
             "mark": {"type": "point", "shape": "circle", "filled": false, "color": "#d9d9d9", "strokeWidth": 1, "opacity": 1},
             "encoding": {"x": {"field": "o", "type": "quantitative"}, "y": {"field": "o", "type": "quantitative"},
                          "size": {"field": "n", "type": "quantitative", "scale": {"type": "pow", "exponent": 2, "domain": [0, 1], "range": [0, 41548], "zero": true, "nice": false}, "legend": null}}},
            {"data": {"name": "sp"}, "transform": [{"filter": "datum.a % 20 == 0"}, {"calculate": "3.6*length(toString(abs(datum.a)))+(datum.a<0?2:0)", "as": "hw"}, {"calculate": "121.5+abs(sin(datum.a*PI/180))*datum.hw+abs(cos(datum.a*PI/180))*4.5", "as": "r"}, {"calculate": "-datum.r*sin(datum.a*PI/180)", "as": "lx"}, {"calculate": "-datum.r*cos(datum.a*PI/180)", "as": "ly"}],
             "mark": {"type": "text", "fontSize": 12.5, "baseline": "middle"},
             "encoding": {"x": {"field": "lx", "type": "quantitative"}, "y": {"field": "ly", "type": "quantitative"}, "text": {"field": "a", "type": "nominal"}}},
            {"data": {"name": "l3"}, "transform": [{"calculate": "0", "as": "o"}, {"calculate": "115*(datum.v+70)/90", "as": "ly"}],
             "mark": {"type": "text", "align": "right", "baseline": "middle", "dx": -10},
             "encoding": {"x": {"field": "o", "type": "quantitative"}, "y": {"field": "ly", "type": "quantitative"}, "text": {"field": "v", "type": "nominal"}}},
            {"data": {"name": "d3"}, "transform": [{"calculate": "115*(datum.v+70)/90", "as": "r"}, {"calculate": "-datum.r*sin(datum.a*PI/180)", "as": "px"}, {"calculate": "-datum.r*cos(datum.a*PI/180)", "as": "py"}],
             "mark": {"type": "line", "strokeWidth": 3},
             "encoding": {"x": {"field": "px", "type": "quantitative"}, "y": {"field": "py", "type": "quantitative"}, "order": {"field": "a", "type": "quantitative"},
                          "color": {"field": "s", "type": "nominal", "scale": {"domain": ["E面", "H面"], "range": ["#4472C4", "#ED7D31"]}, "legend": {"legendX": 179, "legendY": 340}}}}
          ]
        },
        {
          "width": 465, "height": 385,
          "title": {"text": "F=0.2GHz", "dx": 1},
          "layer": [
            {"data": {"name": "sp"}, "transform": [{"calculate": "0", "as": "o"}, {"calculate": "-115*sin(datum.a*PI/180)", "as": "sx"}, {"calculate": "-115*cos(datum.a*PI/180)", "as": "sy"}],
             "mark": {"type": "rule", "color": "#d9d9d9", "strokeWidth": 1},
             "encoding": {"x": {"field": "o", "type": "quantitative", "scale": {"domain": [-232.5, 232.5], "nice": false, "zero": false}, "axis": null},
                          "y": {"field": "o", "type": "quantitative", "scale": {"domain": [-188.5, 196.5], "nice": false, "zero": false}, "axis": null},
                          "x2": {"field": "sx"}, "y2": {"field": "sy"}}},
            {"data": {"name": "l3"}, "transform": [{"calculate": "0", "as": "o"}, {"calculate": "(datum.v+70)/90", "as": "n"}],
             "mark": {"type": "point", "shape": "circle", "filled": false, "color": "#d9d9d9", "strokeWidth": 1, "opacity": 1},
             "encoding": {"x": {"field": "o", "type": "quantitative"}, "y": {"field": "o", "type": "quantitative"},
                          "size": {"field": "n", "type": "quantitative", "scale": {"type": "pow", "exponent": 2, "domain": [0, 1], "range": [0, 41548], "zero": true, "nice": false}, "legend": null}}},
            {"data": {"name": "sp"}, "transform": [{"filter": "datum.a % 20 == 0"}, {"calculate": "3.6*length(toString(abs(datum.a)))+(datum.a<0?2:0)", "as": "hw"}, {"calculate": "121.5+abs(sin(datum.a*PI/180))*datum.hw+abs(cos(datum.a*PI/180))*4.5", "as": "r"}, {"calculate": "-datum.r*sin(datum.a*PI/180)", "as": "lx"}, {"calculate": "-datum.r*cos(datum.a*PI/180)", "as": "ly"}],
             "mark": {"type": "text", "fontSize": 12.5, "baseline": "middle"},
             "encoding": {"x": {"field": "lx", "type": "quantitative"}, "y": {"field": "ly", "type": "quantitative"}, "text": {"field": "a", "type": "nominal"}}},
            {"data": {"name": "l3"}, "transform": [{"calculate": "0", "as": "o"}, {"calculate": "115*(datum.v+70)/90", "as": "ly"}],
             "mark": {"type": "text", "align": "right", "baseline": "middle", "dx": -10},
             "encoding": {"x": {"field": "o", "type": "quantitative"}, "y": {"field": "ly", "type": "quantitative"}, "text": {"field": "v", "type": "nominal"}}},
            {"data": {"name": "d4"}, "transform": [{"calculate": "115*(datum.v+70)/90", "as": "r"}, {"calculate": "-datum.r*sin(datum.a*PI/180)", "as": "px"}, {"calculate": "-datum.r*cos(datum.a*PI/180)", "as": "py"}],
             "mark": {"type": "line", "strokeWidth": 3},
             "encoding": {"x": {"field": "px", "type": "quantitative"}, "y": {"field": "py", "type": "quantitative"}, "order": {"field": "a", "type": "quantitative"},
                          "color": {"field": "s", "type": "nominal", "scale": {"domain": ["E面", "H面"], "range": ["#4472C4", "#ED7D31"]}, "legend": {"legendX": 186, "legendY": 342}}}}
          ]
        }
      ]
    },
    {
      "spacing": 2,
      "resolve": {"scale": {"color": "independent"}, "legend": {"color": "independent"}},
      "hconcat": [
        {
          "width": 465, "height": 385,
          "title": {"text": "F=0.25GHz", "dx": 3},
          "layer": [
            {"data": {"name": "sp"}, "transform": [{"calculate": "0", "as": "o"}, {"calculate": "-115*sin(datum.a*PI/180)", "as": "sx"}, {"calculate": "-115*cos(datum.a*PI/180)", "as": "sy"}],
             "mark": {"type": "rule", "color": "#d9d9d9", "strokeWidth": 1},
             "encoding": {"x": {"field": "o", "type": "quantitative", "scale": {"domain": [-232.5, 232.5], "nice": false, "zero": false}, "axis": null},
                          "y": {"field": "o", "type": "quantitative", "scale": {"domain": [-188.5, 196.5], "nice": false, "zero": false}, "axis": null},
                          "x2": {"field": "sx"}, "y2": {"field": "sy"}}},
            {"data": {"name": "l3"}, "transform": [{"calculate": "0", "as": "o"}, {"calculate": "(datum.v+70)/90", "as": "n"}],
             "mark": {"type": "point", "shape": "circle", "filled": false, "color": "#d9d9d9", "strokeWidth": 1, "opacity": 1},
             "encoding": {"x": {"field": "o", "type": "quantitative"}, "y": {"field": "o", "type": "quantitative"},
                          "size": {"field": "n", "type": "quantitative", "scale": {"type": "pow", "exponent": 2, "domain": [0, 1], "range": [0, 41548], "zero": true, "nice": false}, "legend": null}}},
            {"data": {"name": "sp"}, "transform": [{"filter": "datum.a % 20 == 0"}, {"calculate": "3.6*length(toString(abs(datum.a)))+(datum.a<0?2:0)", "as": "hw"}, {"calculate": "121.5+abs(sin(datum.a*PI/180))*datum.hw+abs(cos(datum.a*PI/180))*4.5", "as": "r"}, {"calculate": "-datum.r*sin(datum.a*PI/180)", "as": "lx"}, {"calculate": "-datum.r*cos(datum.a*PI/180)", "as": "ly"}],
             "mark": {"type": "text", "fontSize": 12.5, "baseline": "middle"},
             "encoding": {"x": {"field": "lx", "type": "quantitative"}, "y": {"field": "ly", "type": "quantitative"}, "text": {"field": "a", "type": "nominal"}}},
            {"data": {"name": "l3"}, "transform": [{"calculate": "0", "as": "o"}, {"calculate": "115*(datum.v+70)/90", "as": "ly"}],
             "mark": {"type": "text", "align": "right", "baseline": "middle", "dx": -10},
             "encoding": {"x": {"field": "o", "type": "quantitative"}, "y": {"field": "ly", "type": "quantitative"}, "text": {"field": "v", "type": "nominal"}}},
            {"data": {"name": "d5"}, "transform": [{"calculate": "115*(datum.v+70)/90", "as": "r"}, {"calculate": "-datum.r*sin(datum.a*PI/180)", "as": "px"}, {"calculate": "-datum.r*cos(datum.a*PI/180)", "as": "py"}],
             "mark": {"type": "line", "strokeWidth": 3},
             "encoding": {"x": {"field": "px", "type": "quantitative"}, "y": {"field": "py", "type": "quantitative"}, "order": {"field": "a", "type": "quantitative"},
                          "color": {"field": "s", "type": "nominal", "scale": {"domain": ["E面", "H面"], "range": ["#4472C4", "#ED7D31"]}, "legend": {"legendX": 179, "legendY": 340}}}}
          ]
        },
        {
          "width": 465, "height": 385,
          "title": {"text": "F=0.3GHz", "dx": 1},
          "layer": [
            {"data": {"name": "sp"}, "transform": [{"calculate": "0", "as": "o"}, {"calculate": "-115*sin(datum.a*PI/180)", "as": "sx"}, {"calculate": "-115*cos(datum.a*PI/180)", "as": "sy"}],
             "mark": {"type": "rule", "color": "#d9d9d9", "strokeWidth": 1},
             "encoding": {"x": {"field": "o", "type": "quantitative", "scale": {"domain": [-232.5, 232.5], "nice": false, "zero": false}, "axis": null},
                          "y": {"field": "o", "type": "quantitative", "scale": {"domain": [-188.5, 196.5], "nice": false, "zero": false}, "axis": null},
                          "x2": {"field": "sx"}, "y2": {"field": "sy"}}},
            {"data": {"name": "l3"}, "transform": [{"calculate": "0", "as": "o"}, {"calculate": "(datum.v+70)/90", "as": "n"}],
             "mark": {"type": "point", "shape": "circle", "filled": false, "color": "#d9d9d9", "strokeWidth": 1, "opacity": 1},
             "encoding": {"x": {"field": "o", "type": "quantitative"}, "y": {"field": "o", "type": "quantitative"},
                          "size": {"field": "n", "type": "quantitative", "scale": {"type": "pow", "exponent": 2, "domain": [0, 1], "range": [0, 41548], "zero": true, "nice": false}, "legend": null}}},
            {"data": {"name": "sp"}, "transform": [{"filter": "datum.a % 20 == 0"}, {"calculate": "3.6*length(toString(abs(datum.a)))+(datum.a<0?2:0)", "as": "hw"}, {"calculate": "121.5+abs(sin(datum.a*PI/180))*datum.hw+abs(cos(datum.a*PI/180))*4.5", "as": "r"}, {"calculate": "-datum.r*sin(datum.a*PI/180)", "as": "lx"}, {"calculate": "-datum.r*cos(datum.a*PI/180)", "as": "ly"}],
             "mark": {"type": "text", "fontSize": 12.5, "baseline": "middle"},
             "encoding": {"x": {"field": "lx", "type": "quantitative"}, "y": {"field": "ly", "type": "quantitative"}, "text": {"field": "a", "type": "nominal"}}},
            {"data": {"name": "l3"}, "transform": [{"calculate": "0", "as": "o"}, {"calculate": "115*(datum.v+70)/90", "as": "ly"}],
             "mark": {"type": "text", "align": "right", "baseline": "middle", "dx": -10},
             "encoding": {"x": {"field": "o", "type": "quantitative"}, "y": {"field": "ly", "type": "quantitative"}, "text": {"field": "v", "type": "nominal"}}},
            {"data": {"name": "d6"}, "transform": [{"calculate": "115*(datum.v+70)/90", "as": "r"}, {"calculate": "-datum.r*sin(datum.a*PI/180)", "as": "px"}, {"calculate": "-datum.r*cos(datum.a*PI/180)", "as": "py"}],
             "mark": {"type": "line", "strokeWidth": 3},
             "encoding": {"x": {"field": "px", "type": "quantitative"}, "y": {"field": "py", "type": "quantitative"}, "order": {"field": "a", "type": "quantitative"},
                          "color": {"field": "s", "type": "nominal", "scale": {"domain": ["E面", "H面"], "range": ["#4472C4", "#ED7D31"]}, "legend": {"legendX": 186, "legendY": 341}}}}
          ]
        }
      ]
    }
  ]
}
